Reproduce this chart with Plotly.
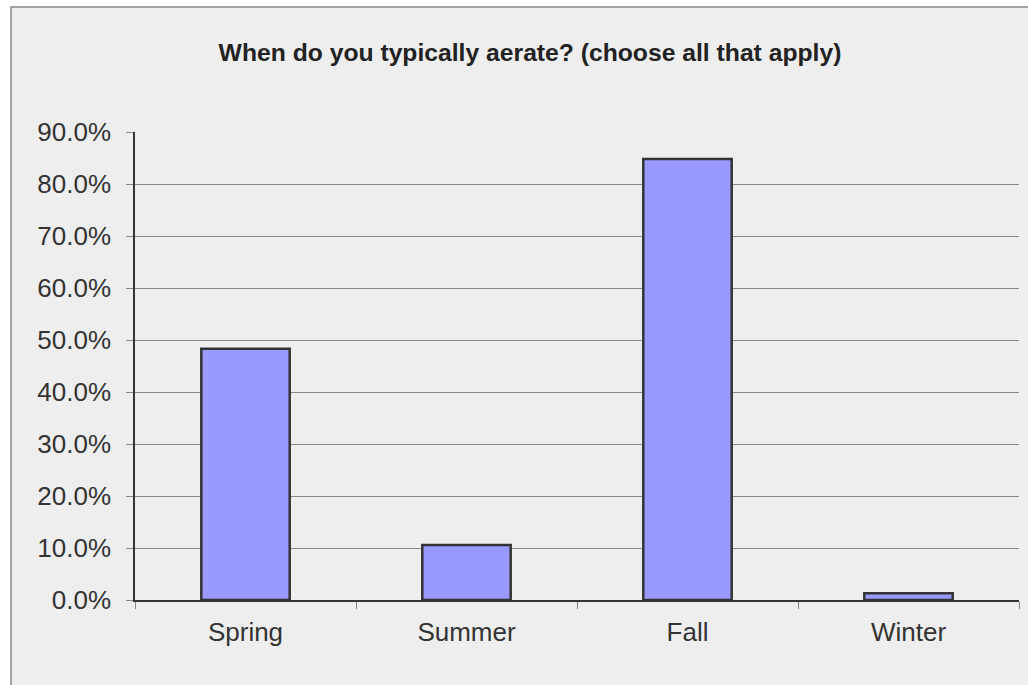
import plotly.graph_objects as go

categories = ["Spring", "Summer", "Fall", "Winter"]
values = [48.3, 10.6, 84.8, 1.3]
y_ticks = [0, 10, 20, 30, 40, 50, 60, 70, 80, 90]
y_tick_labels = [f"{v:.1f}%" for v in y_ticks]
title_text = "When do you typically aerate? (choose all that apply)"

W, H = 1028, 685
L, R, T, B = 135, 1019, 132, 600
pw, ph = R - L, B - T

fig = go.Figure(go.Bar(
    x=categories, y=values,
    marker=dict(color="#9999ff", line=dict(color="#333333", width=2.5)),
    hoverinfo="x+y",
))

def px_x(p):
    return (p - L) / pw

def px_y(p):
    return (B - p) / ph

fig.add_shape(type="rect", xref="paper", yref="paper",
              x0=px_x(11), x1=px_x(1040), y0=px_y(700), y1=px_y(7),
              line=dict(color="#888888", width=1.5), fillcolor="#eeeeee", layer="below")

fig.update_layout(
    width=W, height=H,
    margin=dict(l=L, r=W - R, t=T, b=H - B, pad=0),
    paper_bgcolor="white",
    plot_bgcolor="rgba(0,0,0,0)",
    font=dict(family="Liberation Sans, Arial, sans-serif", color="#333333", size=26),
    bargap=0.6,
    showlegend=False,
    title=dict(text=title_text, x=530 / W, xref="container", xanchor="center",
               y=1 - 52 / H, yref="container", yanchor="middle",
               font=dict(size=24.7, color="#222222", weight="bold")),
    xaxis=dict(
        range=[-0.5, 3.5], showline=True, linecolor="#333333", linewidth=1.5,
        ticks="outside", tickson="boundaries", ticklen=7, tickcolor="#888888",
        showgrid=False, tickfont=dict(size=26, color="#333333"),
        ticklabelstandoff=8,
    ),
    yaxis=dict(
        range=[0, 90], tickvals=y_ticks, ticktext=y_tick_labels,
        showline=True, linecolor="#333333", linewidth=1.5,
        ticks="outside", ticklen=7, tickcolor="#888888",
        showgrid=True, gridcolor="#888888", gridwidth=1,
        zeroline=False, ticklabelstandoff=10,
        tickfont=dict(size=26, color="#333333"),
    ),
)

fig.write_html("out.html", config={"displayModeBar": False},
               post_script="document.body.style.margin='0px';")
